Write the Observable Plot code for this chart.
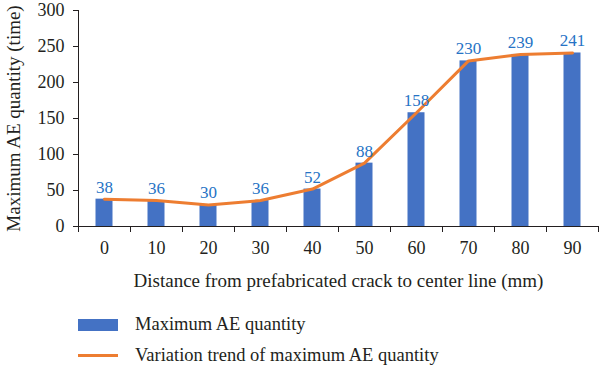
<!DOCTYPE html>
<html>
<head>
<meta charset="utf-8">
<script src="https://cdn.jsdelivr.net/npm/d3@7"></script>
<script src="https://cdn.jsdelivr.net/npm/@observablehq/plot@0.6"></script>
<style>
  html, body { margin: 0; padding: 0; background: #fff; }
  #chart { width: 600px; }
  .legend { font-family: "Liberation Serif", serif; font-size: 18.5px; color: #231f20; height: 69px; position: relative; }
  .legend .row { position: absolute; left: 78px; display: flex; align-items: center; }
  .legend .sw { width: 40px; margin-right: 17px; }
</style>
</head>
<body>
<div id="chart"></div>
<script>
const distances = ["0", "10", "20", "30", "40", "50", "60", "70", "80", "90"];
const aeCounts = [38, 36, 30, 36, 52, 88, 158, 230, 239, 241];
const yTicks = [0, 50, 100, 150, 200, 250, 300];
const xTitle = "Distance from prefabricated crack to center line (mm)";
const yTitle = "Maximum AE quantity (time)";
const seriesNames = ["Maximum AE quantity", "Variation trend of maximum AE quantity"];
const barColor = "#4472C4";
const lineColor = "#ED7D31";
const labelColor = "#2673C5";

const data = distances.map((d, i) => ({d, v: aeCounts[i]}));

const chart = Plot.plot({
  width: 600,
  height: 300,
  marginLeft: 78,
  marginRight: 2,
  marginTop: 10,
  marginBottom: 74,
  style: {fontFamily: "'Liberation Serif', serif", fontSize: "18px", color: "#231f20", background: "#fff"},
  x: {domain: distances, padding: 0, axis: null},
  y: {domain: [0, 300], axis: null},
  marks: [
    Plot.barY(data, {x: "d", y: "v", fill: barColor, insetLeft: 17.5, insetRight: 17.5}),
    Plot.lineY(data, {x: "d", y: "v", stroke: lineColor, strokeWidth: 3, curve: "linear"}),
    Plot.text(data, {x: "d", y: "v", text: d => String(d.v), dy: -12, fill: labelColor, fontSize: 17}),
    Plot.ruleY([0], {stroke: "#231f20", insetLeft: -5}),
    Plot.ruleX([distances[0]], {stroke: "#231f20", dx: -26}),
    Plot.axisY(yTicks, {tickSize: 5, tickPadding: 9, tickFormat: d => String(d), fontSize: 18, label: null, fontVariant: "normal"}),
    Plot.axisX(distances, {tickSize: 0, tickPadding: 15, fontSize: 18, label: null, fontVariant: "normal"}),
    Plot.axisX(distances, {tickSize: 6, tickFormat: () => "", dx: -26, label: null}),
    Plot.axisX([distances[distances.length - 1]], {tickSize: 6, tickFormat: () => "", dx: 26, label: null}),
    Plot.text([xTitle], {frameAnchor: "bottom", dy: 60, fontSize: 19}),
    Plot.text([yTitle], {frameAnchor: "left", textAnchor: "middle", rotate: -90, dx: -65, fontSize: 19})
  ]
});
document.getElementById("chart").appendChild(chart);

const legend = document.createElement("div");
legend.className = "legend";
legend.innerHTML = `
  <div class="row" style="top:14px"><div class="sw" style="height:12px;background:${barColor}"></div><span>${seriesNames[0]}</span></div>
  <div class="row" style="top:45px"><div class="sw" style="height:3px;background:${lineColor}"></div><span>${seriesNames[1]}</span></div>`;
document.getElementById("chart").appendChild(legend);
</script>
</body>
</html>
